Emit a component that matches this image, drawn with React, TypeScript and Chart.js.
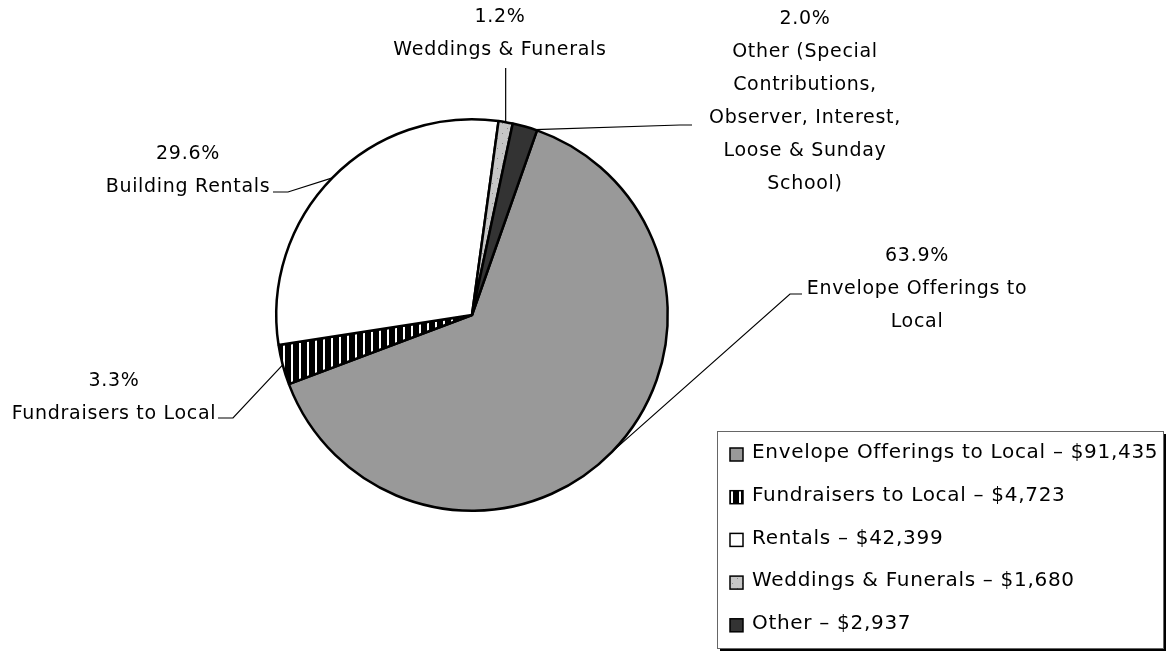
import React, { useEffect, useRef } from "react";
import { Chart, registerables } from "chart.js";

Chart.register(...registerables);

// ---- data ----
const categories = [
  "Envelope Offerings to Local",
  "Fundraisers to Local",
  "Rentals",
  "Weddings & Funerals",
  "Other",
];
const values = [91435, 4723, 42399, 1680, 2937];
const percentLabels = ["63.9%", "3.3%", "29.6%", "1.2%", "2.0%"];
const calloutNames = [
  ["Envelope Offerings to", "Local"],
  ["Fundraisers to Local"],
  ["Building Rentals"],
  ["Weddings & Funerals"],
  ["Other (Special", "Contributions,", "Observer, Interest,", "Loose & Sunday", "School)"],
];

const W = 1166;
const H = 653;
const LABEL_FONT = '19px "DejaVu Sans"';
const LEGEND_FONT = '20px "DejaVu Sans"';
const LINE_H = 33;

function makeStripes(): CanvasPattern | string {
  const c = document.createElement("canvas");
  c.width = 8;
  c.height = 8;
  const g = c.getContext("2d");
  if (!g) return "#000";
  g.fillStyle = "#000";
  g.fillRect(0, 0, 8, 8);
  g.fillStyle = "#fff";
  g.fillRect(3, 0, 2, 8);
  return g.createPattern(c, "repeat") || "#000";
}

function makeDots(): CanvasPattern | string {
  const c = document.createElement("canvas");
  c.width = 10;
  c.height = 10;
  const g = c.getContext("2d");
  if (!g) return "#c8c8c8";
  g.fillStyle = "#c6c6c6";
  g.fillRect(0, 0, 10, 10);
  g.fillStyle = "#8a8a8a";
  g.fillRect(2, 3, 1, 1);
  g.fillRect(7, 8, 1, 1);
  return g.createPattern(c, "repeat") || "#c8c8c8";
}

// callout layout: text centre x, first line centre y, leader path (after the arc point), anchor fraction
const calloutLayout = [
  { x: 917, y: 256, path: [[790, 294], [802, 294]], frac: 0.5 },
  { x: 114, y: 381, path: [[233, 418], [218, 418]], frac: 0.5 },
  { x: 188, y: 154, path: [[288, 192], [273, 192]], frac: 0.5 },
  { x: 500, y: 17, path: [[null, 68]], frac: 0.5 },
  { x: 805, y: 19, path: [[680, 125], [692, 125]], frac: 0.9 },
];

export default function App() {
  const ref = useRef<HTMLCanvasElement | null>(null);

  useEffect(() => {
    const canvas = ref.current;
    if (!canvas) return;
    const stripes = makeStripes();
    const dots = makeDots();
    const fills: any[] = ["#999999", stripes, "#ffffff", dots, "#333333"];

    const overlay = {
      id: "overlay",
      afterDraw(chart: any) {
        const ctx = chart.ctx as CanvasRenderingContext2D;
        const meta = chart.getDatasetMeta(0);
        ctx.save();
        (ctx as any).letterSpacing = "0.7px";
        ctx.font = LABEL_FONT;
        ctx.fillStyle = "#000";
        ctx.textAlign = "center";
        ctx.textBaseline = "middle";
        meta.data.forEach((arc: any, i: number) => {
          const p = arc.getProps(["x", "y", "startAngle", "endAngle", "outerRadius"], true);
          const L = calloutLayout[i];
          const a = p.startAngle + (p.endAngle - p.startAngle) * L.frac;
          const ax = p.x + Math.cos(a) * p.outerRadius;
          const ay = p.y + Math.sin(a) * p.outerRadius;
          ctx.strokeStyle = "#000";
          ctx.lineWidth = 1.2;
          ctx.beginPath();
          ctx.moveTo(ax, ay);
          L.path.forEach((pt: any) => {
            ctx.lineTo(pt[0] === null ? ax : pt[0], pt[1]);
          });
          ctx.stroke();
          const lines = [percentLabels[i], ...calloutNames[i]];
          lines.forEach((t, k) => {
            ctx.fillText(t, L.x, L.y + k * LINE_H);
          });
        });

        // legend
        const bx = 717, by = 431, bw = 446, bh = 217;
        ctx.fillStyle = "#000";
        ctx.fillRect(bx + 3, by + 3, bw, bh);
        ctx.fillStyle = "#fff";
        ctx.fillRect(bx, by, bw, bh);
        ctx.strokeStyle = "#666";
        ctx.lineWidth = 1;
        ctx.strokeRect(bx + 0.5, by + 0.5, bw, bh);
        ctx.textAlign = "left";
        ctx.font = LEGEND_FONT;
        categories.forEach((c, i) => {
          const cy = 453 + i * 42.7;
          ctx.fillStyle = fills[i];
          ctx.fillRect(730, cy - 5, 13, 13);
          ctx.strokeStyle = "#000";
          ctx.lineWidth = 1.5;
          ctx.strokeRect(730, cy - 5, 13, 13);
          ctx.fillStyle = "#000";
          ctx.fillText(`${c} – $${values[i].toLocaleString("en-US")}`, 752, cy);
        });
        ctx.restore();
      },
    };

    const chart = new Chart(canvas, {
      type: "pie",
      data: {
        labels: categories,
        datasets: [
          {
            data: values,
            backgroundColor: fills,
            borderColor: "#000",
            borderWidth: 2.5,
          },
        ],
      },
      options: {
        responsive: false,
        animation: false,
        rotation: 19.4,
        layout: { padding: { left: 275, top: 118, right: 497, bottom: 141 } },
        plugins: { legend: { display: false }, tooltip: { enabled: false } },
      },
      plugins: [overlay],
    } as any);
    return () => chart.destroy();
  }, []);

  return (
    <div style={{ position: "fixed", left: 0, top: 0, width: W, height: H, background: "#fff" }}>
      <canvas ref={ref} width={W} height={H} style={{ display: "block", width: W, height: H }} />
    </div>
  );
}
